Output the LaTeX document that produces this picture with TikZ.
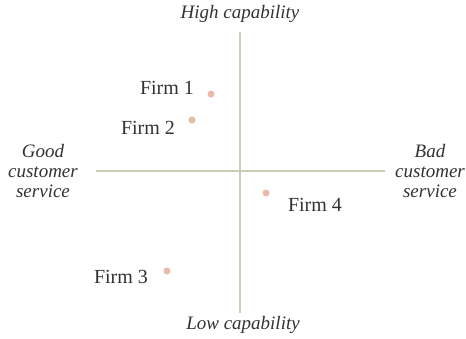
\documentclass[tikz,border=0pt]{standalone}
\usepackage{fontspec}
\setmainfont{Liberation Serif}
\usepackage{tikz}
\definecolor{axisgreen}{RGB}{204,204,182}
\definecolor{firmdot}{RGB}{234,186,170}
\definecolor{labelgrey}{RGB}{50,50,50}
\tikzstyle{axislabel} = [text=labelgrey, font=\fontsize{9.5}{10}\selectfont\itshape, align=center, inner sep=0pt]
\tikzstyle{firmlabel} = [text=labelgrey, font=\fontsize{10}{12}\selectfont, inner sep=0pt]
\tikzstyle{firm} = [circle, fill=firmdot, minimum size=3.5pt, inner sep=0pt]
\tikzstyle{axis} = [axisgreen, line width=0.9pt]

\begin{document}
\begin{tikzpicture}[x=0.5pt, y=-0.5pt]
\useasboundingbox (0,0) rectangle (466,338);
% axes
\coordinate (top) at (240,32);
\coordinate (bottom) at (240,313);
\coordinate (left) at (96,171);
\coordinate (right) at (385,171);
\draw [axis] (top) -- (bottom);
\draw [axis] (left) -- (right);
\node [axislabel] at (240,14) (high) {High capability};
\node [axislabel] at (243,325) (low) {Low capability};
\node [axislabel, text width=60pt] at (43,171) (good)
	{Good\\ customer\\ service};
\node [axislabel, text width=60pt] at (430,171) (bad)
	{Bad\\ customer\\ service};
% firms
\node [firm] at (211,94) (f1) {};
\node [firm] at (192,120) (f2) {};
\node [firm] at (266,193) (f4) {};
\node [firm] at (167,271) (f3) {};
\node [firmlabel] at (167,88) (f1_label) {Firm 1};
\node [firmlabel] at (148,128) (f2_label) {Firm 2};
\node [firmlabel] at (315,205) (f4_label) {Firm 4};
\node [firmlabel] at (121,277) (f3_label) {Firm 3};
\end{tikzpicture}
\end{document}
